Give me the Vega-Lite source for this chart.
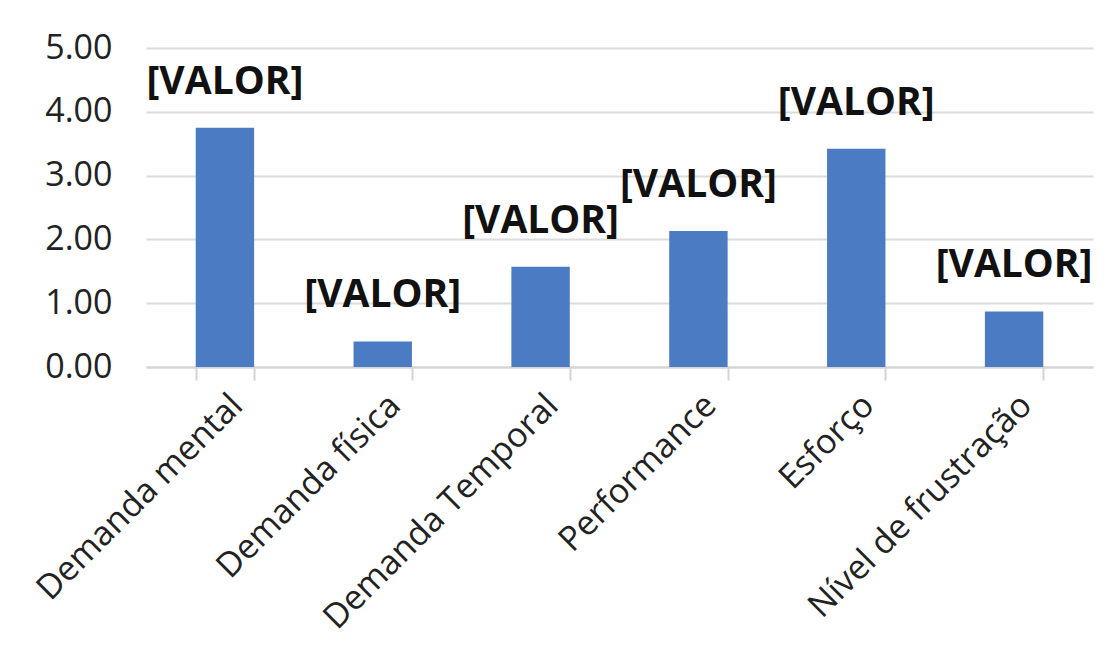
{
  "$schema": "https://vega.github.io/schema/vega-lite/v6.json",
  "autosize": {"type": "none"},
  "width": 947,
  "height": 319,
  "padding": {"left": 146, "top": 48, "right": 22, "bottom": 295},
  "background": "white",
  "config": {"view": {"stroke": null}, "font": "Open Sans"},
  "data": {"values": [
    {"cat": "Demanda mental", "v": 3.75, "lab": "[VALOR]"},
    {"cat": "Demanda física", "v": 0.4, "lab": "[VALOR]"},
    {"cat": "Demanda Temporal", "v": 1.57, "lab": "[VALOR]"},
    {"cat": "Performance", "v": 2.13, "lab": "[VALOR]"},
    {"cat": "Esforço", "v": 3.42, "lab": "[VALOR]"},
    {"cat": "Nível de frustração", "v": 0.87, "lab": "[VALOR]"}
  ]},
  "encoding": {
    "x": {"field": "cat", "type": "nominal", "sort": null,
      "scale": {"paddingInner": 0.63, "paddingOuter": 0.315},
      "axis": {"title": null, "labelAngle": -45, "labelFontSize": 34, "labelColor": "#222222",
        "labelAlign": "right", "labelBaseline": "top", "labelPadding": 8, "labelLimit": 0,
        "tickBand": "extent", "tickSize": 13, "tickColor": "#d4d4d4", "tickWidth": 2,
        "domainColor": "#d4d4d4", "domainWidth": 2, "grid": false}},
    "y": {"field": "v", "type": "quantitative",
      "scale": {"domain": [0, 5], "nice": false},
      "axis": {"title": null, "values": [0, 1, 2, 3, 4, 5], "format": ".2f",
        "labelFontSize": 34, "labelColor": "#222222", "labelPadding": 34,
        "domain": false, "ticks": false, "grid": true, "gridColor": "#dcdcdc", "gridWidth": 2}}
  },
  "layer": [
    {"mark": {"type": "bar", "color": "#4a7bc3"}},
    {"mark": {"type": "text", "fontSize": 39, "fontWeight": "bold", "color": "#111111", "dy": -46, "baseline": "middle"},
      "encoding": {"text": {"field": "lab"}}}
  ]
}
